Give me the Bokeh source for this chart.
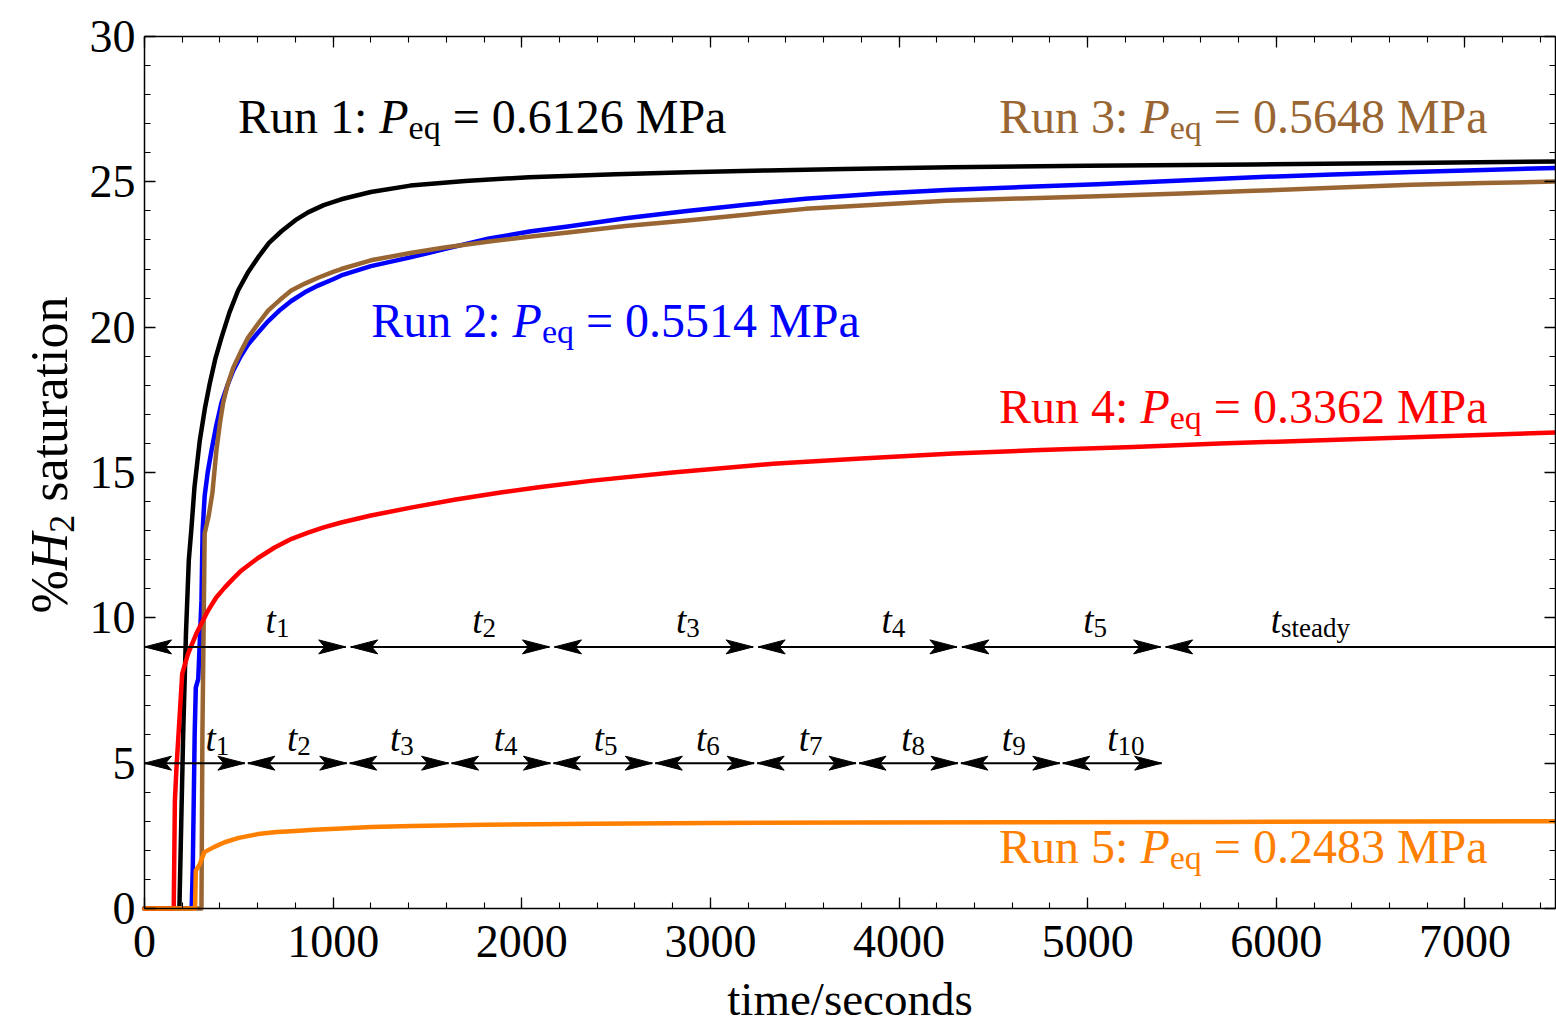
import math
from bokeh.plotting import figure
from bokeh.models import Range1d, LinearAxis, FixedTicker, Label
from bokeh.embed import file_html
from bokeh.resources import INLINE

# ---------------- data ----------------
run1_time = [0, 185, 195, 205, 220, 235, 249, 265, 293, 320, 346, 375, 408, 450, 496, 550, 602, 660, 726, 800, 867, 950, 1043, 1200, 1409, 1700, 2037, 2500, 2876, 3300, 3712, 4274, 5000, 5884, 6700, 7480]
run1_sat = [0, 0, 3.0, 6.0, 9.5, 12.0, 13.1, 14.5, 16.1, 17.2, 18.06, 18.9, 19.64, 20.5, 21.26, 21.9, 22.4, 22.9, 23.3, 23.68, 23.95, 24.2, 24.4, 24.65, 24.87, 25.03, 25.16, 25.26, 25.33, 25.39, 25.44, 25.5, 25.55, 25.6, 25.65, 25.7]

run2_time = [0, 250, 256, 266, 272, 285, 302, 308, 319, 335, 355, 380, 408, 440, 470, 510, 549, 600, 655, 720, 778, 850, 920, 1000, 1043, 1200, 1409, 1600, 1827, 2050, 2245, 2550, 2876, 3200, 3503, 3900, 4250, 4650, 5052, 5500, 5884, 6300, 6718, 7100, 7480]
run2_sat = [0, 0, 1.4, 6.0, 7.6, 7.9, 10.6, 13.0, 14.2, 15.0, 15.75, 16.6, 17.4, 18.0, 18.5, 19.0, 19.4, 19.8, 20.2, 20.6, 20.9, 21.2, 21.43, 21.65, 21.78, 22.1, 22.4, 22.7, 23.05, 23.3, 23.46, 23.75, 24.0, 24.22, 24.42, 24.6, 24.72, 24.82, 24.92, 25.05, 25.16, 25.25, 25.34, 25.41, 25.48]

run3_time = [0, 302, 307, 319, 340, 360, 381, 400, 417, 440, 470, 510, 549, 600, 655, 720, 778, 850, 920, 1000, 1043, 1200, 1409, 1600, 1827, 2050, 2245, 2550, 2876, 3200, 3503, 3900, 4250, 4650, 5052, 5500, 5884, 6300, 6718, 7100, 7480]
run3_sat = [0, 0, 6.0, 12.9, 13.5, 14.3, 15.75, 16.7, 17.4, 18.0, 18.6, 19.15, 19.64, 20.1, 20.57, 20.95, 21.26, 21.5, 21.7, 21.9, 22.0, 22.3, 22.55, 22.75, 22.95, 23.12, 23.26, 23.48, 23.67, 23.88, 24.07, 24.22, 24.35, 24.43, 24.5, 24.6, 24.69, 24.8, 24.9, 24.96, 25.01]

run4_time = [0, 155, 161, 170, 200, 231, 275, 337, 380, 425, 470, 514, 600, 690, 780, 867, 950, 1043, 1200, 1419, 1650, 1896, 2100, 2375, 2800, 3331, 3800, 4288, 4750, 5243, 5700, 6201, 6800, 7480]
run4_sat = [0, 0, 3.7, 4.9, 8.08, 8.77, 9.46, 10.25, 10.7, 11.04, 11.35, 11.63, 12.05, 12.42, 12.72, 12.93, 13.11, 13.28, 13.52, 13.8, 14.07, 14.32, 14.5, 14.72, 15.0, 15.3, 15.48, 15.65, 15.77, 15.88, 16.0, 16.1, 16.23, 16.38]

run5_time = [0, 268, 272, 293, 318, 370, 425, 500, 602, 700, 778, 900, 1043, 1200, 1419, 1800, 2375, 3000, 3808, 4700, 5723, 6600, 7480]
run5_sat = [0, 0, 1.3, 1.53, 1.94, 2.12, 2.28, 2.43, 2.56, 2.63, 2.66, 2.71, 2.75, 2.8, 2.84, 2.88, 2.92, 2.94, 2.96, 2.97, 2.98, 2.99, 3.0]

run_names = ["Run 1:", "Run 2:", "Run 3:", "Run 4:", "Run 5:"]
run_peq = ["0.6126", "0.5514", "0.5648", "0.3362", "0.2483"]
run_colors = ["#000000", "#0000FF", "#996633", "#FF0000", "#FF8000"]

# label anchors (data coords): x, baseline y, alignment
run_label_x = [495, 1202, 7120, 7120, 7120]
run_label_y = [26.66, 19.65, 26.66, 16.68, 1.55]
run_label_align = ["left", "left", "right", "right", "right"]

# interval arrows
upper_bounds = [0, 1080, 2160, 3240, 4320, 5400]
upper_subs = ["1", "2", "3", "4", "5", "steady"]
upper_label_x = [705, 1800, 2880, 3970, 5040, 6180]
upper_level = 9

lower_bounds = [0, 540, 1080, 1620, 2160, 2700, 3240, 3780, 4320, 4860, 5400]
lower_subs = ["1", "2", "3", "4", "5", "6", "7", "8", "9", "10"]
lower_label_x = [386, 818, 1364, 1914, 2444, 2986, 3531, 4075, 4608, 5203]
lower_level = 5

x_ticks = [0, 1000, 2000, 3000, 4000, 5000, 6000, 7000]
x_minor = list(range(0, 7600, 200))
y_ticks = [0, 5, 10, 15, 20, 25, 30]
y_minor = list(range(0, 31))
X_MAX = 7480
Y_MAX = 30
x_title = "time/seconds"

# ---------------- layout ----------------
# the plot box sits at canvas px [144, 1555] x [36, 908]; the frame spans the whole canvas
W, H = 1556, 1027
BOX_L, BOX_R, BOX_T, BOX_B = 144, 1555, 36, 908
PX_X = X_MAX / (BOX_R - BOX_L)      # data units per pixel (x)
PX_Y = Y_MAX / (BOX_B - BOX_T)      # data units per pixel (y)
X0, X1 = -BOX_L * PX_X, X_MAX + (W - BOX_R) * PX_X
Y0, Y1 = -(H - BOX_B) * PX_Y, Y_MAX + BOX_T * PX_Y

FONT = "Liberation Serif"
K_BASE = 0.36          # correction of the label baseline, in em

REG = {' ': 250, 'R': 667, 'u': 500, 'n': 500, ':': 278, '=': 564, '.': 250, 'M': 889,
       'P': 556, 'a': 444, 'e': 444, 'q': 500, 's': 389, 't': 278, 'd': 500, 'y': 500,
       '%': 833, 'r': 333, 'i': 278, 'o': 500, 'm': 778, 'c': 444, '/': 278}
ITA = {'P': 611, 't': 278, 'H': 722}


def tw(text, italic, size):
    tab = ITA if italic else REG
    return sum(500 if ch.isdigit() else tab.get(ch, REG.get(ch, 500)) for ch in text) * size / 1000.0


p = figure(width=W, height=H, x_range=Range1d(X0, X1), y_range=Range1d(Y0, Y1),
           output_backend="svg", toolbar_location=None,
           min_border_left=0, min_border_right=0, min_border_top=0, min_border_bottom=0)
p.xgrid.visible = False
p.ygrid.visible = False
p.outline_line_color = None
p.background_fill_color = "white"
p.border_fill_color = "white"


def style_axis(ax, ticks, minor, show_labels, loc, bounds):
    ax.fixed_location = loc
    ax.bounds = bounds
    ax.ticker = FixedTicker(ticks=ticks, minor_ticks=minor)
    ax.major_tick_in = 11
    ax.major_tick_out = 0
    ax.minor_tick_in = 6
    ax.minor_tick_out = 0
    ax.major_tick_line_width = 1.3
    ax.minor_tick_line_width = 1.1
    ax.axis_line_width = 1.5
    ax.axis_line_color = "black"
    ax.major_tick_line_color = "black"
    ax.minor_tick_line_color = "black"
    ax.major_label_text_font = FONT
    ax.major_label_text_color = "black"
    ax.major_label_text_font_size = "46px"
    if not show_labels:
        ax.major_label_overrides = {t: "" for t in ticks}
        ax.major_label_standoff = 0


xa = p.xaxis[0]
style_axis(xa, x_ticks, x_minor, True, 0, (0, X_MAX))
xa.major_label_standoff = 17
ya = p.yaxis[0]
style_axis(ya, y_ticks, y_minor, True, 0, (0, Y_MAX))
ya.major_label_standoff = 9

top = LinearAxis()
style_axis(top, x_ticks, x_minor, False, Y_MAX, (0, X_MAX))
p.add_layout(top, "above")
right = LinearAxis()
style_axis(right, y_ticks, y_minor, False, X_MAX, (0, Y_MAX))
p.add_layout(right, "right")

# ---------------- curves ----------------
runs = [(run1_time, run1_sat), (run2_time, run2_sat), (run3_time, run3_sat),
        (run4_time, run4_sat), (run5_time, run5_sat)]
for (t, s), c in zip(runs, run_colors):
    p.line(t, s, line_color=c, line_width=4.5, line_join="round", line_cap="round")

# ---------------- interval arrows ----------------
HEAD_L = 27 * PX_X
HEAD_W = 7 * PX_Y
NOTCH = 0.78


def head(tip, y, direction):
    back = tip - direction * HEAD_L
    notch = tip - direction * HEAD_L * NOTCH
    return [tip, back, notch, back], [y, y + HEAD_W, y, y - HEAD_W]


def draw_row(bounds, level, gap_px, open_end):
    gap = gap_px * PX_X
    x0s, x1s, hxs, hys = [], [], [], []
    segs = list(zip(bounds[:-1], bounds[1:]))
    if open_end:
        segs.append((bounds[-1], X_MAX))
    for i, (a, b) in enumerate(segs):
        a2 = a + (gap if i > 0 else 0)
        last = open_end and i == len(segs) - 1
        b2 = b if last else b - gap
        x0s.append(a2)
        x1s.append(b2)
        hx, hy = head(a2, level, -1)
        hxs.append(hx)
        hys.append(hy)
        if not last:
            hx, hy = head(b2, level, +1)
            hxs.append(hx)
            hys.append(hy)
    p.segment(x0s, [level] * len(x0s), x1s, [level] * len(x1s), line_color="black", line_width=2)
    p.patches(hxs, hys, fill_color="black", line_color="black", line_width=1)


draw_row(upper_bounds, upper_level, 2.5, True)
draw_row(lower_bounds, lower_level, 1.5, False)


# ---------------- composed texts ----------------
def text_run(x, y, pieces, color, align="left", dx=0.0, dy=0.0, angle=0.0):
    """pieces: list of (text, italic, size_px, drop_px); dy = baseline height above anchor (px)"""
    widths = [tw(t, it, s) for (t, it, s, d) in pieces]
    total = sum(widths)
    if align == "right":
        start = -total
    elif align == "center":
        start = -total / 2.0
    else:
        start = 0.0
    cum = start
    for (t, it, s, d), w in zip(pieces, widths):
        lead = len(t) - len(t.lstrip(' '))
        txt = t.strip(' ')
        off = cum + tw(' ' * lead, False, s)
        corr = K_BASE * s
        if angle == 0:
            xo, yo = dx + off, dy - d + corr
        else:
            xo, yo = dx + d - corr, dy + off
        if txt:
            p.add_layout(Label(x=x, y=y, x_offset=xo, y_offset=yo, text=txt,
                               text_font=FONT, text_font_size=f"{s}px",
                               text_font_style="italic" if it else "normal",
                               text_color=color, text_align="left",
                               text_baseline="alphabetic", angle=angle))
        cum += w


RF, RS, RD = 48, 34, 6
for name, peq, c, lx, ly, al in zip(run_names, run_peq, run_colors, run_label_x, run_label_y, run_label_align):
    text_run(lx, ly, [(name + " ", False, RF, 0), ("P", True, RF, 0), ("eq", False, RS, RD),
                      (" = " + peq + " MPa", False, RF, 0)], c, align=al)

TF, TS, TD = 37, 27, 4
for sub, lx in zip(upper_subs, upper_label_x):
    text_run(lx, upper_level, [("t", True, TF, 0), (sub, False, TS, TD)], "black", align="center", dy=13)
for sub, lx in zip(lower_subs, lower_label_x):
    text_run(lx, lower_level, [("t", True, TF, 0), (sub, False, TS, TD)], "black", align="center", dy=11)

# axis titles
text_run(X_MAX / 2.0, 0, [(x_title, False, 47, 0)], "black", align="center", dy=-107)
text_run(0, 15.6, [("%", False, 52, 0), ("H", True, 52, 0), ("2", False, 36, 6),
                   (" saturation", False, 52, 0)], "black", align="center", dx=-76,
         angle=math.pi / 2)

open("out.html", "w").write(file_html(p, INLINE))
